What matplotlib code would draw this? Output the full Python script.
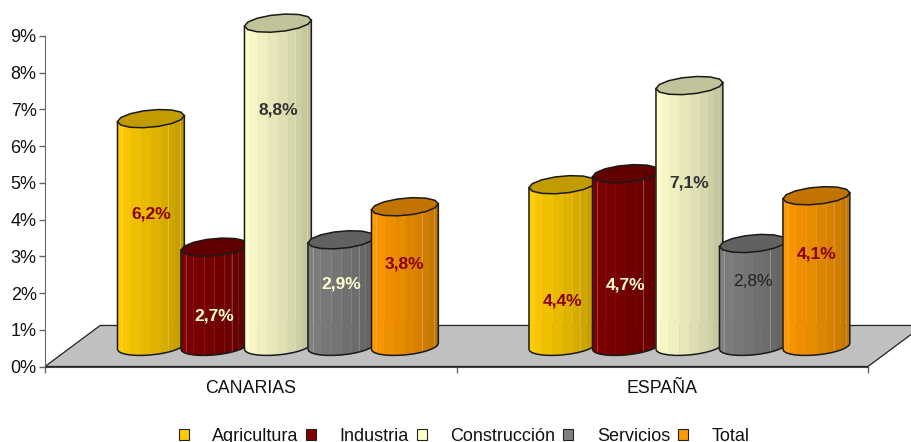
import numpy as np
import matplotlib
matplotlib.use("Agg")
import matplotlib.pyplot as plt
from matplotlib.patches import Patch

plt.rcParams['font.family'] = ['Liberation Sans', 'DejaVu Sans']

groups = ['CANARIAS', 'ESPAÑA']
series = ['Agricultura', 'Industria', 'Construcción', 'Servicios', 'Total']
values = {
    'Agricultura': [6.2, 4.4],
    'Industria': [2.7, 4.7],
    'Construcción': [8.8, 7.1],
    'Servicios': [2.9, 2.8],
    'Total': [3.8, 4.1],
}
yticks = [0, 1, 2, 3, 4, 5, 6, 7, 8, 9]

colors = ['#FFCC00', '#800000', '#FFFFCC', '#808080', '#FF9900']
# label heights are hand placed in the original chart
label_y = {
    'Agricultura': [4.15, 1.78],
    'Industria': [1.38, 2.22],
    'Construcción': [6.99, 5.0],
    'Servicios': [2.25, 2.32],
    'Total': [2.79, 3.05],
}
label_col = {
    'Agricultura': ['#8B0000', '#8B0000'],
    'Industria': ['#FFFFCC', '#FFFFCC'],
    'Construcción': ['#333333', '#333333'],
    'Servicios': ['#FFFFCC', '#222222'],
    'Total': ['#8B0000', '#8B0000'],
}

W, H = 911, 442
fig = plt.figure(figsize=(W / 100, H / 100), dpi=100)
ax = fig.add_axes([45 / W, (H - 366.5) / H, 823 / W, 330.5 / H])
ax.set_xlim(-0.5, 1.5)
ax.set_ylim(0, 9)

# floor of the 3d box
depth_x, depth_y = 0.134, 1.117
ax.fill([-0.5, -0.5 + depth_x, 1.5 + depth_x, 1.5], [0, depth_y, depth_y, 0],
        facecolor='#C0C0C0', edgecolor='#222222', lw=0.9, clip_on=False, zorder=1)

bar_w = 0.1625
step = 0.1543
shift = 0.066
base = 0.55
tilt = 0.082
b = 0.235
us = np.array([-1, -0.86, -0.62, -0.3, 0.0, 0.3, 0.52, 0.72, 0.88, 1])
light = [1, 6, 8]


def darker(c, f):
    return tuple(x * f for x in matplotlib.colors.to_rgb(c))


def cylinder(x0, v, c, z):
    hw = bar_w / 2
    top = v + base
    for k in range(len(us) - 1):
        u = np.linspace(us[k], us[k + 1], 4)
        yb = base + tilt * u - b * np.sqrt(1 - u ** 2)
        yt = top + tilt * u
        f = 1 - 0.25 * k / (len(us) - 2)
        ax.fill(np.r_[x0 + hw * u, x0 + hw * u[::-1]], np.r_[yb, yt[::-1]],
                facecolor=darker(c, f), edgecolor=darker(c, f), lw=0.2,
                clip_on=False, zorder=z)
        if k in light:
            ax.plot([x0 + hw * us[k]] * 2, [base + tilt * us[k] - b * np.sqrt(1 - us[k] ** 2), top + tilt * us[k]],
                    color='white', alpha=0.2, lw=0.7, clip_on=False, zorder=z)
    # outline of the body
    u = np.cos(np.linspace(np.pi, 0, 15))
    yb = base + tilt * u - b * np.sqrt(1 - u ** 2)
    ax.plot(np.r_[x0 - hw, x0 + hw * u, x0 + hw], np.r_[top - tilt, yb, top + tilt],
            color='#1a1a1a', lw=1.1, clip_on=False, zorder=z)
    # top cap
    t = np.linspace(0, 2 * np.pi, 15)
    ax.fill(x0 + hw * np.cos(t), top + tilt * np.cos(t) + b * np.sin(t),
            facecolor=darker(c, 0.76), edgecolor='#1a1a1a', lw=1.1, clip_on=False, zorder=z)


for i, g in enumerate(groups):
    for j, s in enumerate(series):
        x0 = i + (j - 2) * step + shift
        cylinder(x0, values[s][i], colors[j], 3 + j)
        bold = not (s == 'Servicios' and i == 1)
        ax.text(x0, label_y[s][i], f'{values[s][i]:.1f}%'.replace('.', ','), ha='center', va='center',
                fontsize=12.5, fontweight='bold' if bold else 'normal',
                color=label_col[s][i], zorder=10)

ax.spines['top'].set_visible(False)
ax.spines['right'].set_visible(False)
ax.spines['left'].set_color('#666666')
ax.spines['bottom'].set_color('#444444')
ax.set_yticks(yticks)
ax.set_yticklabels([f'{t}%' for t in yticks], fontsize=13, color='#111111')
ax.set_xticks([-0.5, 0.5, 1.5])
ax.set_xticklabels([])
ax.set_xticks([0, 1], minor=True)
ax.set_xticklabels(groups, minor=True, fontsize=12.8, color='#111111')
ax.tick_params(axis='x', which='minor', length=0, pad=10)
ax.tick_params(axis='both', which='major', length=4, color='#666666', width=1)
ax.tick_params(axis='y', pad=2)

handles = [Patch(facecolor=c, edgecolor='#222222', lw=0.8) for c in colors]
fig.legend(handles, series, loc='lower center', bbox_to_anchor=(464 / W, -12 / H), ncol=5, frameon=False,
           fontsize=13, handlelength=0.55, handleheight=0.55, handletextpad=1.3,
           columnspacing=0.44, borderpad=0, labelcolor='#111111')

fig.savefig('out.png', dpi=100)
